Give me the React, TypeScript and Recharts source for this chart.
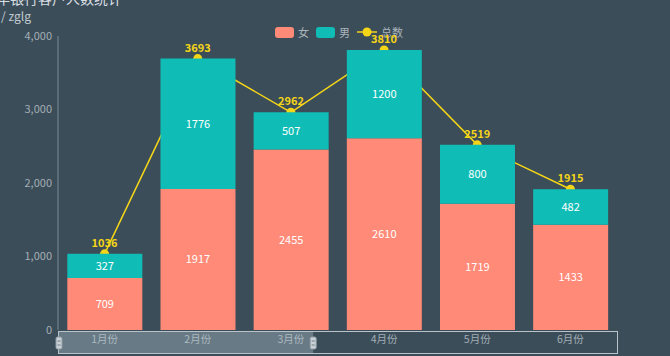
import { ComposedChart, Bar, Line, XAxis, YAxis, LabelList } from 'recharts'

const months = ['1月份', '2月份', '3月份', '4月份', '5月份', '6月份']
const female = [709, 1917, 2455, 2610, 1719, 1433]
const male = [327, 1776, 507, 1200, 800, 482]
const total = [1036, 3693, 2962, 3810, 2519, 1915]
const yTicks = [0, 1000, 2000, 3000, 4000]

const data = months.map((m, i) => ({ month: m, female: female[i], male: male[i], total: total[i] }))

const BG = '#3b4d59'
const SALMON = '#ff8a78'
const TEAL = '#10bdb6'
const YELLOW = '#f5d517'
const FONT = "'Noto Sans CJK SC', 'Noto Sans', sans-serif"

const W = 670
const H = 356
const PLOT_LEFT = 58
const PLOT_RIGHT = 617
const PLOT_TOP = 36
const PLOT_BOTTOM = 330
const MARGIN = { top: PLOT_TOP, right: W - PLOT_RIGHT, left: 0, bottom: 0 }

function LegendBox() {
  const txt = { color: '#aab4bb', fontSize: 11, marginLeft: 4, marginRight: 7 }
  return (
    <div style={{ position: 'absolute', left: 275, top: 24, display: 'flex', alignItems: 'center', zIndex: 1 }}>
      <span style={{ width: 19, height: 11, background: SALMON, borderRadius: 3, display: 'inline-block' }} />
      <span style={txt}>女</span>
      <span style={{ width: 19, height: 11, background: TEAL, borderRadius: 3, display: 'inline-block' }} />
      <span style={txt}>男</span>
      <svg width={20} height={10}>
        <line x1={0} y1={5} x2={20} y2={5} stroke={YELLOW} strokeWidth={1.5} />
        <circle cx={10} cy={5} r={4.5} fill={YELLOW} />
      </svg>
      <span style={txt}>总数</span>
    </div>
  )
}

function Slider() {
  const mid = PLOT_LEFT + (PLOT_RIGHT - PLOT_LEFT) * 0.4565
  const handle = (x: number) => (
    <g>
      <rect x={x - 3} y={337} width={6} height={12} rx={1.5} fill="#c9d1d7" stroke="#8e9aa2" />
      <line x1={x - 1.5} y1={341} x2={x + 1.5} y2={341} stroke="#6d7a83" />
      <line x1={x - 1.5} y1={345} x2={x + 1.5} y2={345} stroke="#6d7a83" />
    </g>
  )
  return (
    <svg width={W} height={H} style={{ position: 'absolute', left: 0, top: 0, pointerEvents: 'none', zIndex: 4 }}>
      <rect x={PLOT_LEFT} y={PLOT_BOTTOM + 1} width={mid - PLOT_LEFT} height={23} fill="rgba(190,205,215,0.35)" />
      <rect x={PLOT_LEFT + 0.5} y={PLOT_BOTTOM + 1.5} width={PLOT_RIGHT - PLOT_LEFT} height={22} fill="none" stroke="#b9c2c8" strokeWidth={1} />
      {handle(PLOT_LEFT + 1)}
      {handle(mid)}
    </svg>
  )
}

export default function App() {
  const layer = { position: 'absolute' as const, left: 0, top: 0 }
  return (
    <div style={{ position: 'relative', width: W, height: H, background: BG, overflow: 'hidden', fontFamily: FONT }}>
      <style>{'body{margin:0}'}</style>
      <div style={{ position: 'absolute', left: -4, top: -9, fontSize: 14, lineHeight: '14px', color: '#d9dee2', whiteSpace: 'nowrap' }}>
        年银行客户人数统计
      </div>
      <div style={{ position: 'absolute', left: 1, top: 10, fontSize: 12, lineHeight: '12px', color: '#c4cbd0', whiteSpace: 'nowrap' }}>
        / zglg
      </div>
      <LegendBox />
      {/* line layer sits under the bars, like the original */}
      <div style={{ ...layer, zIndex: 2 }}>
        <ComposedChart width={W} height={H} data={data} margin={MARGIN}>
          <XAxis
            dataKey="month"
            scale="band"
            height={H - PLOT_BOTTOM}
            axisLine={false}
            tickLine={false}
            tickMargin={0}
            tick={{ fill: '#a3aeb5', fontSize: 10.5, fontFamily: FONT }}
          />
          <YAxis
            width={PLOT_LEFT}
            domain={[0, 4000]}
            ticks={yTicks}
            axisLine={{ stroke: '#7c8b95' }}
            tickLine={false}
            tickMargin={0}
            tick={{ fill: '#a3aeb5', fontSize: 11, fontFamily: FONT }}
            tickFormatter={(v: number) => v.toLocaleString('en-US')}
          />
          <Line
            dataKey="total"
            stroke={YELLOW}
            strokeWidth={1.5}
            dot={{ r: 4.5, fill: YELLOW, stroke: 'none' }}
            activeDot={false}
            isAnimationActive={false}
          >
            <LabelList dataKey="total" position="top" offset={7} fill={YELLOW} fontSize={11} fontWeight={600} />
          </Line>
        </ComposedChart>
      </div>
      <div style={{ ...layer, zIndex: 3 }}>
        <ComposedChart width={W} height={H} data={data} margin={MARGIN} barCategoryGap="10%">
          <XAxis dataKey="month" height={H - PLOT_BOTTOM} axisLine={false} tickLine={false} tick={false} />
          <YAxis width={PLOT_LEFT} domain={[0, 4000]} ticks={yTicks} axisLine={false} tickLine={false} tick={false} />
          <Bar dataKey="female" stackId="a" fill={SALMON} isAnimationActive={false}>
            <LabelList dataKey="female" position="center" fill="#fff" fontSize={11} />
          </Bar>
          <Bar dataKey="male" stackId="a" fill={TEAL} isAnimationActive={false}>
            <LabelList dataKey="male" position="center" fill="#fff" fontSize={11} />
          </Bar>
        </ComposedChart>
      </div>
      <Slider />
    </div>
  )
}
